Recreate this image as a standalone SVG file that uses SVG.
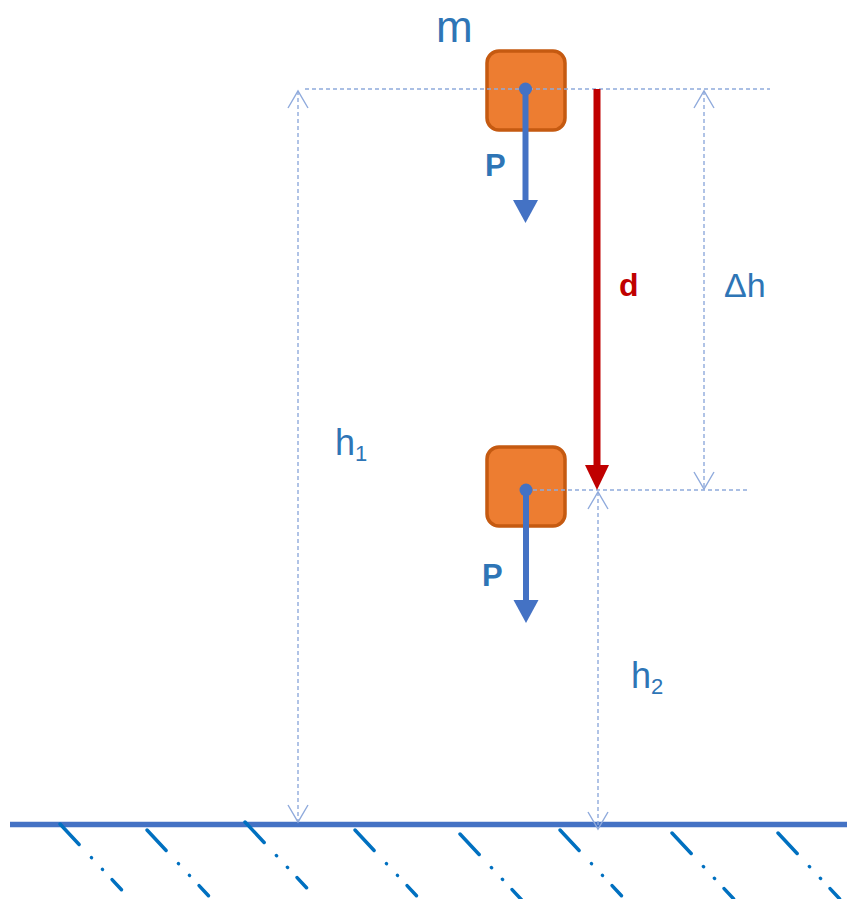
<svg xmlns="http://www.w3.org/2000/svg" width="847" height="899" viewBox="0 0 847 899">
<defs>
<style>
.blk{fill:#ED7D31;stroke:#C55A11;stroke-width:3.5}
.dash{fill:none;stroke:#8FAADC;stroke-width:1.4;stroke-dasharray:4 3}
.chev{fill:none;stroke:#8FAADC;stroke-width:1.4}
.force{stroke:#4472C4;stroke-width:6;fill:none}
.fhead{fill:#4472C4}
.hatch{stroke:#0070C0;stroke-width:3.5;stroke-linecap:round;stroke-dasharray:28 18 0.1 16 0.1 14;fill:none}
.lbl{font-family:"Liberation Sans",Arial,sans-serif;fill:#2E75B6}
.bold{font-weight:bold}
</style>
</defs>
<g id="ground">
<line x1="10" y1="824.5" x2="847" y2="824.5" stroke="#4472C4" stroke-width="5.5"/>
<g class="hatch">
<line x1="60" y1="824" x2="121.5" y2="889.7"/>
<line x1="147" y1="830" x2="208.5" y2="895.7"/>
<line x1="245" y1="822" x2="306.5" y2="887.7"/>
<line x1="355" y1="830" x2="416.5" y2="895.7"/>
<line x1="460" y1="834" x2="521.5" y2="899.7"/>
<line x1="560" y1="830" x2="621.5" y2="895.7"/>
<line x1="672" y1="833" x2="733.5" y2="898.7"/>
<line x1="778" y1="833" x2="839.5" y2="898.7"/>
</g>
</g>
<g id="block-top">
<rect class="blk" x="487" y="51" width="78" height="79" rx="12"/>
</g>
<g id="block-bottom">
<rect class="blk" x="487" y="447" width="78" height="79" rx="12"/>
</g>
<g id="connectors">
<line class="dash" x1="305" y1="89" x2="770" y2="89"/>
<line class="dash" x1="526" y1="490" x2="750" y2="490"/>
<line class="dash" x1="298" y1="91" x2="298" y2="822"/>
<polyline class="chev" points="288,108 298,91 308,108"/>
<polyline class="chev" points="288,805 298,822 308,805"/>
<line class="dash" x1="704" y1="91" x2="704" y2="489"/>
<polyline class="chev" points="694,108 704,91 714,108"/>
<polyline class="chev" points="694,472 704,489 714,472"/>
<line class="dash" x1="598" y1="492" x2="598" y2="829"/>
<polyline class="chev" points="588,509 598,492 608,509"/>
<polyline class="chev" points="588,812 598,829 608,812"/>
<line x1="597" y1="89" x2="597" y2="467" stroke="#C00000" stroke-width="7"/>
<polygon points="585,465 609,465 597,490" fill="#C00000"/>
<line class="force" x1="525.5" y1="89" x2="525.5" y2="202"/>
<polygon class="fhead" points="513,200 538,200 525.5,223"/>
<circle class="fhead" cx="525.5" cy="89" r="6.5"/>
<line class="force" x1="526" y1="490" x2="526" y2="602"/>
<polygon class="fhead" points="513.5,600 538.5,600 526,623"/>
<circle class="fhead" cx="526" cy="490" r="6.5"/>
</g>
<g id="labels">
<text class="lbl" x="436" y="42" font-size="44">m</text>
<text class="lbl bold" x="485" y="176" font-size="31">P</text>
<text class="lbl bold" x="482" y="586" font-size="31">P</text>
<text class="lbl bold" x="619" y="296" font-size="32" style="fill:#C00000">d</text>
<text class="lbl" x="724" y="297" font-size="34">Δh</text>
<text class="lbl" x="335" y="455" font-size="36">h<tspan font-size="22" dy="6">1</tspan></text>
<text class="lbl" x="631" y="688" font-size="36">h<tspan font-size="22" dy="6">2</tspan></text>
</g>
</svg>
